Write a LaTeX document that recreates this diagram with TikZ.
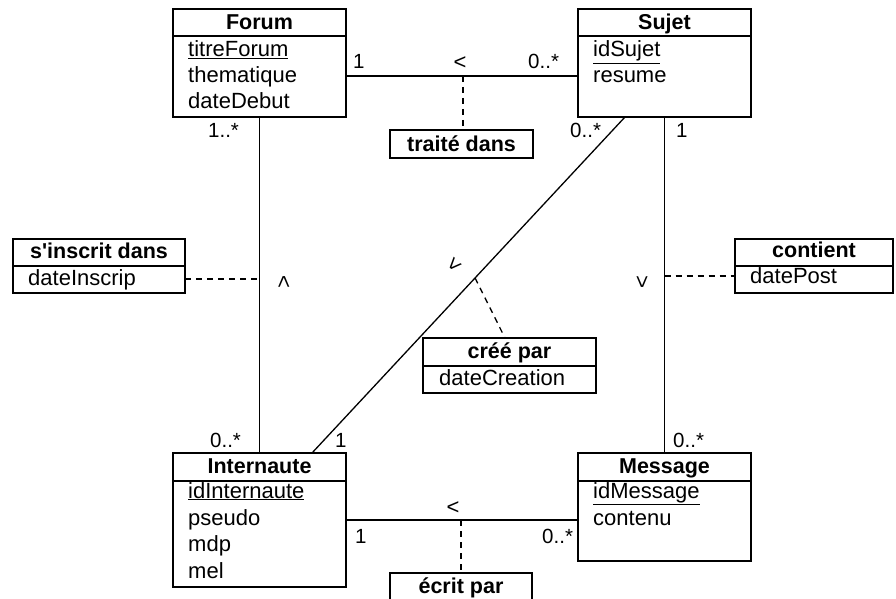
\documentclass[tikz,border=0pt]{standalone}
\usepackage{fontspec}
\setmainfont{Liberation Sans}[Ligatures=TeXOff]
\usetikzlibrary{calc}
\begin{document}
\begin{tikzpicture}[x=1pt,y=-1pt,
  box/.style={draw, line width=1.5pt, inner sep=0pt, outer sep=0pt},
  divline/.style={line width=1.5pt},
  hdr/.style={anchor=base, font=\bfseries\fontsize{21.5}{25}\selectfont, inner sep=0pt},
  attr/.style={anchor=base west, font=\fontsize{22}{25}\selectfont, inner sep=0pt},
  mult/.style={anchor=base west, font=\fontsize{20.5}{24}\selectfont, inner sep=0pt},
  dirglyph/.style={font=\fontsize{22}{24}\selectfont, inner sep=0pt},
  assoc/.style={line width=1.3pt},
  dashlink/.style={line width=1.3pt, dash pattern=on 6pt off 5pt}]
\useasboundingbox (0,0) rectangle (896,599);

% ---- class boxes ----
\node[box, minimum width=173pt, minimum height=108pt] (forum) at (259.5,63) {};
\draw[divline] ([yshift=-27pt]forum.north west) -- ([yshift=-27pt]forum.north east);
\node[hdr] (forumH) at (259.5,30) {Forum};
\node[attr] (forumA) at (188,57) {\underline{titreForum}};
\node[attr] (forumB) at (188,83) {thematique};
\node[attr] (forumC) at (188,109) {dateDebut};

\node[box, minimum width=173pt, minimum height=108pt] (sujet) at (664.5,63) {};
\draw[divline] ([yshift=-27pt]sujet.north west) -- ([yshift=-27pt]sujet.north east);
\node[hdr] (sujetH) at (664.5,30) {Sujet};
\node[attr] (sujetA) at (593,57) {\underline{idSujet}};
\node[attr] (sujetB) at (593,83) {resume};

\node[box, minimum width=173pt, minimum height=134pt] (internaute) at (259.5,520) {};
\draw[divline] ([yshift=-28pt]internaute.north west) -- ([yshift=-28pt]internaute.north east);
\node[hdr] (internauteH) at (259.5,473) {Internaute};
\node[attr] (internauteA) at (188,498) {\underline{idInternaute}};
\node[attr] (internauteB) at (188,525) {pseudo};
\node[attr] (internauteC) at (188,551) {mdp};
\node[attr] (internauteD) at (188,578) {mel};

\node[box, minimum width=173pt, minimum height=108pt] (message) at (664.5,507) {};
\draw[divline] ([yshift=-28pt]message.north west) -- ([yshift=-28pt]message.north east);
\node[hdr] (messageH) at (664.5,473) {Message};
\node[attr] (messageA) at (593,498) {\underline{idMessage}};
\node[attr] (messageB) at (593,525) {contenu};

% ---- association classes ----
\node[box, minimum width=143pt, minimum height=28pt] (traite) at (461.5,144) {};
\node[hdr] (traiteH) at (461.5,151) {traité dans};

\node[box, minimum width=172pt, minimum height=54pt] (sinscrit) at (99,266) {};
\draw[divline] ([yshift=-27pt]sinscrit.north west) -- ([yshift=-27pt]sinscrit.north east);
\node[hdr] (sinscritH) at (99,258) {s'inscrit dans};
\node[attr] (sinscritA) at (28,285) {dateInscrip};

\node[box, minimum width=158pt, minimum height=54pt] (contient) at (814,266) {};
\draw[divline] ([yshift=-27pt]contient.north west) -- ([yshift=-27pt]contient.north east);
\node[hdr] (contientH) at (814,257) {contient};
\node[attr] (contientA) at (750,283) {datePost};

\node[box, minimum width=173pt, minimum height=55pt] (cree) at (509.5,365.5) {};
\draw[divline] ([yshift=-28pt]cree.north west) -- ([yshift=-28pt]cree.north east);
\node[hdr] (creeH) at (509.5,358) {créé par};
\node[attr] (creeA) at (439,385) {dateCreation};

\node[box, minimum width=142pt, minimum height=28pt] (ecrit) at (461,587) {};
\node[hdr] (ecritH) at (461,593) {écrit par};

% ---- associations ----
\draw[assoc] ([yshift=-13pt]forum.east) -- coordinate[pos=0.504] (fsm) ([yshift=-13pt]sujet.west);
\draw[assoc] (forum.south) -- coordinate[pos=0.482] (fim) (internaute.north);
\draw[assoc] (sujet.south) -- coordinate[pos=0.473] (smm) (message.north);
\draw[assoc] ([xshift=-39.5pt]sujet.south) -- coordinate[pos=0.479] (dm) ([xshift=52.5pt]internaute.north);
\draw[assoc] (internaute.east) -- coordinate[pos=0.496] (imm) (internaute.east -| message.west);

% ---- dashed links ----
\draw[dashlink] (fsm) -- (fsm |- traite.north);
\draw[dashlink] (sinscrit.east |- fim) -- (fim);
\draw[dashlink] (smm) -- (smm -| contient.west);
\draw[dashlink] (dm) -- ([xshift=-4.5pt]cree.north);
\draw[dashlink] (imm) -- (imm |- ecrit.north);

% ---- multiplicities ----
\node[mult] (m1) at (353,69) {1};
\node[mult] (m2) at (528,69) {0..*};
\node[mult] (m3) at (208,138) {1..*};
\node[mult] (m4) at (570,138) {0..*};
\node[mult] (m5) at (676,138) {1};
\node[mult] (m6) at (210,447) {0..*};
\node[mult] (m7) at (335,447) {1};
\node[mult] (m8) at (673,447) {0..*};
\node[mult] (m9) at (355,543) {1};
\node[mult] (m10) at (542,543) {0..*};

% ---- reading directions ----
\node[dirglyph] (d1) at (460,63) {<};
\node[dirglyph] (d2) at (453,508) {<};
\node[dirglyph, rotate=47] (d3) at (455,265) {<};
\node[dirglyph, rotate=-90] (d4) at (283,282) {<};
\node[dirglyph, rotate=90] (d5) at (643,282) {<};
\end{tikzpicture}
\end{document}
